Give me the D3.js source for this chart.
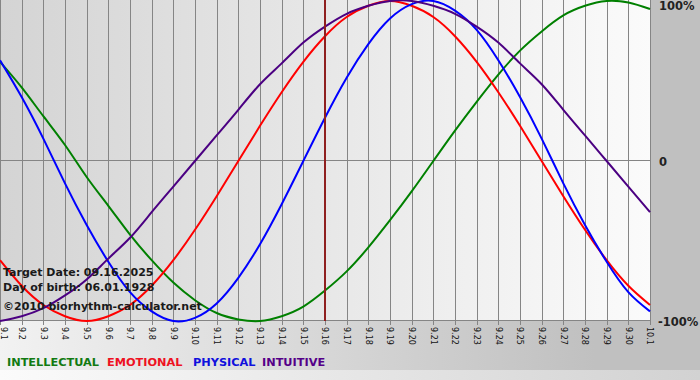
<!DOCTYPE html>
<html>
<head>
<meta charset="utf-8">
<script src="https://cdn.jsdelivr.net/npm/d3@7"></script>
<style>
    body { margin: 0; padding: 0; background: #ffffff; }
    svg { display: block; }
    text { font-family: "DejaVu Sans", Verdana, sans-serif; }
</style>
</head>
<body>
<svg id="chart" width="700" height="380"></svg>
<script>
const width = 700;
const height = 380;

// days shown on the x axis (September 2025 + Oct 1)
const days = ["9.1", "9.2", "9.3", "9.4", "9.5", "9.6", "9.7", "9.8", "9.9", "9.10",
    "9.11", "9.12", "9.13", "9.14", "9.15", "9.16", "9.17", "9.18", "9.19", "9.20",
    "9.21", "9.22", "9.23", "9.24", "9.25", "9.26", "9.27", "9.28", "9.29", "9.30", "10.1"];

// values, -1 .. 1
const intellectual = [0.62, 0.46, 0.28, 0.10, -0.10, -0.28, -0.46, -0.62, -0.76, -0.87,
    -0.95, -0.99, -1.00, -0.97, -0.91, -0.81, -0.69, -0.54, -0.37, -0.19,
    0.00, 0.19, 0.37, 0.54, 0.69, 0.81, 0.91, 0.97, 1.00, 0.99, 0.95];
const emotional = [-0.62, -0.78, -0.90, -0.97, -1.00, -0.97, -0.90, -0.78, -0.62, -0.43,
    -0.22, 0.00, 0.22, 0.43, 0.62, 0.78, 0.90, 0.97, 1.00, 0.97,
    0.90, 0.78, 0.62, 0.43, 0.22, 0.00, -0.22, -0.43, -0.62, -0.78, -0.90];
const physical = [0.63, 0.40, 0.14, -0.14, -0.40, -0.63, -0.82, -0.94, -1.00, -0.98,
    -0.89, -0.73, -0.52, -0.27, 0.00, 0.27, 0.52, 0.73, 0.89, 0.98,
    1.00, 0.94, 0.82, 0.63, 0.40, 0.14, -0.14, -0.40, -0.63, -0.82, -0.94];
const intuitive = [-1.00, -0.97, -0.92, -0.84, -0.74, -0.61, -0.48, -0.32, -0.16, 0.00,
    0.16, 0.32, 0.48, 0.61, 0.74, 0.84, 0.92, 0.97, 1.00, 1.00,
    0.97, 0.92, 0.84, 0.74, 0.61, 0.48, 0.32, 0.16, 0.00, -0.16, -0.32];

const seriesNames = ["INTELLECTUAL", "EMOTIONAL", "PHYSICAL", "INTUITIVE"];
const seriesColors = ["#008000", "#ff0000", "#0000ff", "#4b0082"];
const legendColors = ["#127a12", "#ee1122", "#1010dd", "#550088"];
const seriesValues = [intellectual, emotional, physical, intuitive];

const yTicks = [1, 0, -1];
const yTickLabels = ["100%", "0", "-100%"];
const targetDay = "9.16";
const infoLines = ["Target Date: 09.16.2025", "Day of birth: 06.01.1928", "\u00a92010 biorhythm-calculator.net"];

const plotRight = 651;
const plotBottom = 321;

const svg = d3.select("#chart");

const xScale = d3.scalePoint().domain(days).range([0, 650]);
const yScale = d3.scaleLinear().domain([-1, 1]).range([plotBottom, 1]);

// backgrounds
const defs = svg.append("defs");
const outerGrad = defs.append("linearGradient").attr("id", "outerGrad");
outerGrad.append("stop").attr("offset", "0%").attr("stop-color", "#f2f2f2");
outerGrad.append("stop").attr("offset", "85%").attr("stop-color", "#c0c0c0");
outerGrad.append("stop").attr("offset", "100%").attr("stop-color", "#c0c0c0");

const plotGrad = defs.append("linearGradient").attr("id", "plotGrad");
plotGrad.append("stop").attr("offset", "0%").attr("stop-color", "#d4d4d4");
plotGrad.append("stop").attr("offset", "100%").attr("stop-color", "#fbfbfb");

const footGrad = defs.append("linearGradient").attr("id", "footGrad");
footGrad.append("stop").attr("offset", "0%").attr("stop-color", "#fbfbfb");
footGrad.append("stop").attr("offset", "100%").attr("stop-color", "#d2d2d2");

svg.append("rect").attr("width", width).attr("height", height).attr("fill", "url(#outerGrad)");
svg.append("rect").attr("y", 370).attr("width", width).attr("height", 10).attr("fill", "url(#footGrad)");
svg.append("rect")
    .attr("x", 0).attr("y", 0)
    .attr("width", plotRight).attr("height", plotBottom)
    .attr("fill", "url(#plotGrad)");

// vertical grid lines + ticks
svg.selectAll(".grid").data(days).enter()
    .append("line")
    .attr("class", "grid")
    .attr("x1", d => Math.round(xScale(d)) + 0.5)
    .attr("x2", d => Math.round(xScale(d)) + 0.5)
    .attr("y1", 0)
    .attr("y2", plotBottom + 4)
    .attr("stroke", "#858585")
    .attr("stroke-width", 1);

// horizontal lines at 0 and -100%
svg.selectAll(".hline").data([0, -1]).enter()
    .append("line")
    .attr("class", "hline")
    .attr("x1", 0)
    .attr("x2", plotRight)
    .attr("y1", d => Math.round(yScale(d)) - 0.5)
    .attr("y2", d => Math.round(yScale(d)) - 0.5)
    .attr("stroke", "#858585")
    .attr("stroke-width", 1);

// x tick labels, rotated; the first one is nudged in so it stays readable
svg.selectAll(".xlabel").data(days).enter()
    .append("text")
    .attr("class", "xlabel")
    .attr("transform", d => "translate(" + Math.max(xScale(d), 4) + "," + (plotBottom + 6) + ") rotate(90)")
    .attr("dy", "0.35em")
    .attr("font-size", "8px")
    .attr("fill", "#111")
    .text(d => d);

// y labels on the right
svg.selectAll(".ylabel").data(yTicks).enter()
    .append("text")
    .attr("class", "ylabel")
    .attr("x", (d, i) => i === 2 ? 658 : 659)
    .attr("y", d => Math.max(yScale(d) + 5, 10))
    .attr("font-size", "11.5px")
    .attr("font-weight", "bold")
    .attr("fill", "#222")
    .text((d, i) => yTickLabels[i]);

// curves
const line = d3.line()
    .x((d, i) => xScale(days[i]))
    .y(d => yScale(d))
    .curve(d3.curveNatural);

svg.append("g")
    .selectAll("path").data(seriesValues).enter()
    .append("path")
    .attr("d", d => line(d))
    .attr("fill", "none")
    .attr("stroke", (d, i) => seriesColors[i])
    .attr("stroke-width", 2);

// target day marker
svg.append("line")
    .attr("x1", xScale(targetDay))
    .attr("x2", xScale(targetDay))
    .attr("y1", 0)
    .attr("y2", plotBottom)
    .attr("stroke", "#8f1f1f")
    .attr("stroke-width", 2);

// info text
svg.selectAll(".info").data(infoLines).enter()
    .append("text")
    .attr("class", "info")
    .attr("x", 3)
    .attr("y", (d, i) => [276, 291, 310][i])
    .attr("font-size", "11px")
    .attr("font-weight", "bold")
    .attr("fill", "#1a1a1a")
    .text(d => d);

// legend
const legendX = [7, 107, 193, 262];
svg.selectAll(".legend").data(seriesNames).enter()
    .append("text")
    .attr("class", "legend")
    .attr("x", (d, i) => legendX[i])
    .attr("y", 366)
    .attr("font-size", "11.3px")
    .attr("font-weight", "bold")
    .attr("fill", (d, i) => legendColors[i])
    .text(d => d);
</script>
</body>
</html>
